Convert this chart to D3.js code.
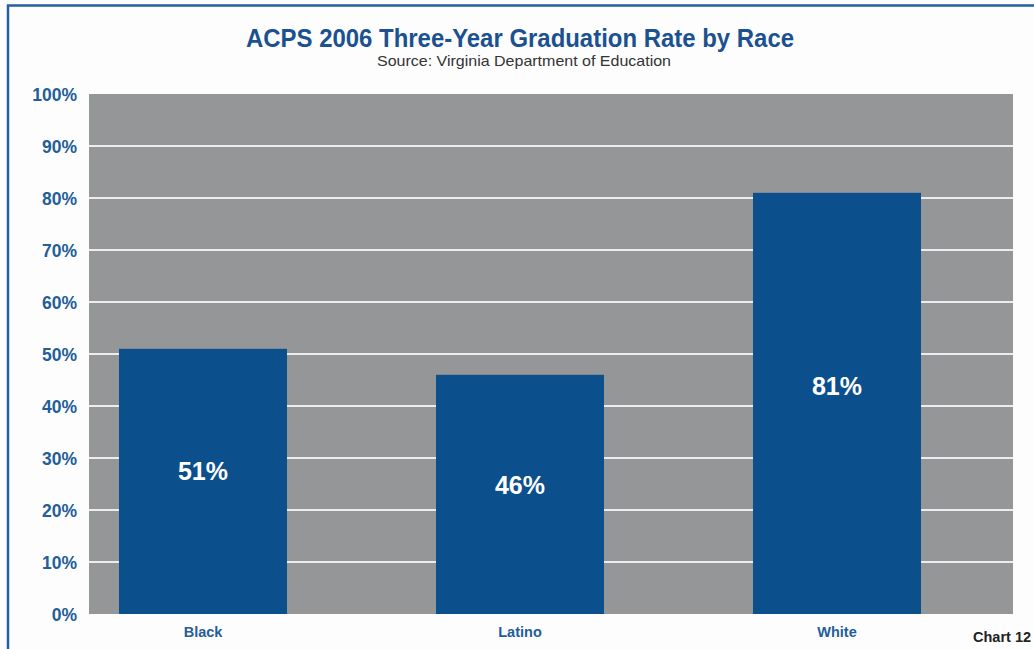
<!DOCTYPE html>
<html>
<head>
<meta charset="utf-8">
<script src="https://cdn.jsdelivr.net/npm/d3@7"></script>
<style>
  html, body { margin: 0; padding: 0; background: #fff; }
  svg { display: block; }
</style>
</head>
<body>
<script>
// Chart data
const categories = ["Black", "Latino", "White"];
const rates = [51, 46, 81];
const yTicks = [0, 10, 20, 30, 40, 50, 60, 70, 80, 90, 100];
const titleText = "ACPS 2006 Three-Year Graduation Rate by Race";
const subtitleText = "Source: Virginia Department of Education";
const chartTag = "Chart 12";

const W = 1034, H = 649;
const plot = { left: 89, right: 1013, top: 94, bottom: 614 };
const FONT = "Liberation Sans, Arial, sans-serif";

const svg = d3.select("body").append("svg")
  .attr("width", W).attr("height", H);

// page frame
svg.append("rect").attr("width", W).attr("height", H).attr("fill", "#fdfdfd");
svg.append("path")
  .attr("d", `M8,${H} L8,5.5 L${W},5.5`)
  .attr("fill", "none").attr("stroke", "#22609f").attr("stroke-width", 2.5);

const y = d3.scaleLinear().domain([0, 100]).range([plot.bottom, plot.top]);
const x = d3.scaleBand().domain(categories)
  .range([44.5, 995.5]).paddingInner(0.47).paddingOuter(0.235);

// plot background
svg.append("rect")
  .attr("x", plot.left).attr("y", plot.top)
  .attr("width", plot.right - plot.left).attr("height", plot.bottom - plot.top)
  .attr("fill", "#959697");

// gridlines
svg.append("g").selectAll("line")
  .data(yTicks.filter(d => d > 0 && d < 100))
  .join("line")
  .attr("x1", plot.left).attr("x2", plot.right)
  .attr("y1", d => y(d)).attr("y2", d => y(d))
  .attr("stroke", "#ececec").attr("stroke-width", 2);

// y axis labels
const yAxis = d3.axisLeft(y).tickValues(yTicks).tickFormat(d => d + "%").tickSize(0).tickPadding(0);
const gy = svg.append("g").attr("transform", `translate(77,0)`).call(yAxis);
gy.select(".domain").remove();
gy.selectAll("text")
  .attr("fill", "#235d9a")
  .attr("font-family", FONT)
  .attr("font-weight", "bold")
  .attr("font-size", 17.5)
  .attr("dy", "0.35em");

// bars
svg.append("g").selectAll("rect")
  .data(categories)
  .join("rect")
  .attr("x", d => x(d))
  .attr("width", x.bandwidth())
  .attr("y", (d, i) => y(rates[i]))
  .attr("height", (d, i) => y(0) - y(rates[i]))
  .attr("fill", "#0b4f8d");

// value labels inside bars
svg.append("g").selectAll("text")
  .data(categories)
  .join("text")
  .attr("x", d => x(d) + x.bandwidth() / 2)
  .attr("y", (d, i) => y(rates[i]) + 0.46 * (y(0) - y(rates[i])))
  .attr("dy", "0.35em")
  .attr("text-anchor", "middle")
  .attr("fill", "#ffffff")
  .attr("font-family", FONT)
  .attr("font-weight", "bold")
  .attr("font-size", 25)
  .text((d, i) => rates[i] + "%");

// x axis labels
const xAxis = d3.axisBottom(x).tickSize(0).tickPadding(0);
const gx = svg.append("g").attr("transform", `translate(0,${plot.bottom})`).call(xAxis);
gx.select(".domain").remove();
gx.selectAll("text")
  .attr("y", 23)
  .attr("dy", null)
  .attr("fill", "#235d9a")
  .attr("font-family", FONT)
  .attr("font-weight", "bold")
  .attr("font-size", 14.5);

// title and subtitle
svg.append("text")
  .attr("x", 520).attr("y", 47)
  .attr("text-anchor", "middle")
  .attr("textLength", 548)
  .attr("lengthAdjust", "spacingAndGlyphs")
  .attr("fill", "#1b5190")
  .attr("font-family", FONT)
  .attr("font-weight", "bold")
  .attr("font-size", 25)
  .text(titleText);

svg.append("text")
  .attr("x", 524).attr("y", 66)
  .attr("text-anchor", "middle")
  .attr("textLength", 294)
  .attr("lengthAdjust", "spacingAndGlyphs")
  .attr("fill", "#333")
  .attr("font-family", FONT)
  .attr("font-size", 14.5)
  .text(subtitleText);

// chart number tag
svg.append("text")
  .attr("x", 973).attr("y", 642)
  .attr("fill", "#222")
  .attr("font-family", FONT)
  .attr("font-weight", "bold")
  .attr("font-size", 14.5)
  .text(chartTag);
</script>
</body>
</html>
